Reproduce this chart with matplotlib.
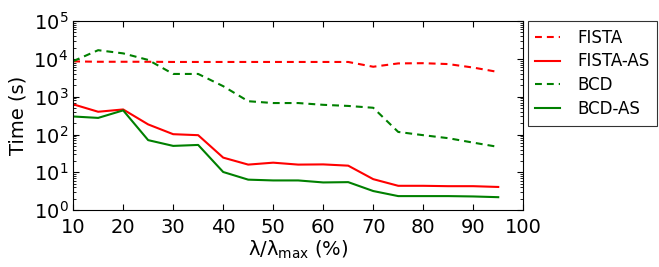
import numpy as np
import matplotlib
matplotlib.use('Agg')
import matplotlib.pyplot as plt
from matplotlib.ticker import LogLocator, MultipleLocator

lam = [10, 15, 20, 25, 30, 35, 40, 45, 50, 55, 60, 65, 70, 75, 80, 85, 90, 95]
fista = [8600, 8400, 8400, 8400, 8300, 8300, 8300, 8300, 8300, 8300, 8300, 8300,
         6200, 7600, 7700, 7300, 5900, 4500]
fista_as = [630, 400, 460, 185, 102, 96, 24.5, 16, 18, 16, 16.2, 15,
            6.6, 4.4, 4.4, 4.3, 4.3, 4.1]
bcd = [8700, 17000, 14000, 9400, 4000, 4000, 1900, 760, 680, 680, 610, 570,
       510, 117, 96, 80, 61, 47]
bcd_as = [300, 275, 435, 71, 50, 53, 10.2, 6.4, 6.1, 6.1, 5.4, 5.5,
          3.2, 2.35, 2.35, 2.35, 2.3, 2.2]

plt.rcParams['font.family'] = 'DejaVu Sans'
plt.rcParams['xtick.direction'] = 'in'
plt.rcParams['ytick.direction'] = 'in'
plt.rcParams['xtick.top'] = True
plt.rcParams['ytick.right'] = True

fig = plt.figure(figsize=(6.59, 2.67), dpi=100)
ax = fig.add_axes([0.111, 0.213, 0.683, 0.708])

d = (3.3, 2.4)
ax.plot(lam, fista, color='r', lw=1.5, dashes=d, label='FISTA')
ax.plot(lam, fista_as, color='r', lw=1.5, label='FISTA-AS')
ax.plot(lam, bcd, color='g', lw=1.5, dashes=d, label='BCD')
ax.plot(lam, bcd_as, color='g', lw=1.5, label='BCD-AS')

ax.set_yscale('log')
ax.set_xlim(10, 100)
ax.set_ylim(1, 1e5)
ax.xaxis.set_major_locator(MultipleLocator(10))
ax.yaxis.set_major_locator(LogLocator(base=10, numticks=10))
ax.yaxis.set_minor_locator(LogLocator(base=10, subs=np.arange(2, 10), numticks=20))
ax.tick_params(which='major', length=4, width=0.8, labelsize=14)
ax.tick_params(which='minor', length=2, width=0.6)
ax.tick_params(axis='x', pad=6)

ax.set_xlabel(r'$\mathregular{\lambda/\lambda_{max}}$ (%)', fontsize=14, labelpad=1)
ax.set_ylabel('Time (s)', fontsize=14)

leg = ax.legend(loc='upper left', bbox_to_anchor=(1.01, 1.0), borderaxespad=0,
                fontsize=12, fancybox=False, handlelength=1.5, handletextpad=1.0,
                labelspacing=0.35, borderpad=0.45)
leg.get_frame().set_edgecolor('black')
leg.get_frame().set_linewidth(0.8)

fig.savefig('out.png', dpi=100)
